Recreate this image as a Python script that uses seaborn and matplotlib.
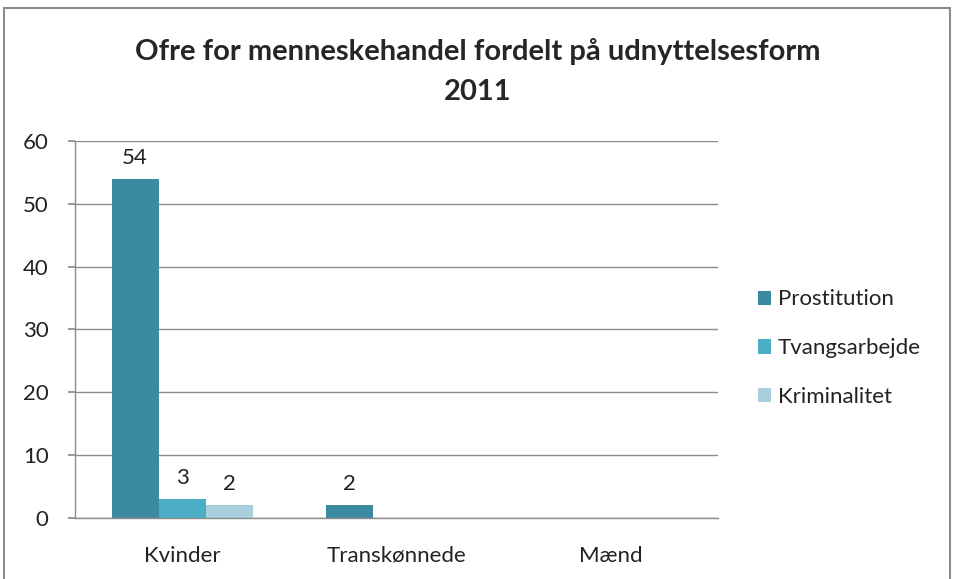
import pandas as pd
import seaborn as sns
import matplotlib.pyplot as plt
from matplotlib.patches import Rectangle

categories = ['Kvinder', 'Transkønnede', 'Mænd']
series_names = ['Prostitution', 'Tvangsarbejde', 'Kriminalitet']
prostitution = [54, 2, 0]
tvangsarbejde = [3, 0, 0]
kriminalitet = [2, 0, 0]
colors = ['#3C8AA0', '#4BADC6', '#A9CFDD']

df = pd.DataFrame({
    'kategori': categories * 3,
    'form': [s for s in series_names for _ in categories],
    'antal': prostitution + tvangsarbejde + kriminalitet,
})

sns.set_theme(style='white')
plt.rcParams['font.family'] = ['Lato', 'DejaVu Sans']

fig = plt.figure(figsize=(9.56, 5.79), dpi=100)
ax = fig.add_axes([0.0785, 0.1054, 0.673, 0.6511])

sns.barplot(data=df, x='kategori', y='antal', hue='form', palette=colors,
            width=0.66, gap=0, saturation=1, linewidth=0, ax=ax, legend=True)

# værdietiketter kun for værdier over nul
for cont in ax.containers:
    labels = [f'{v:.0f}' if v > 0 else '' for v in cont.datavalues]
    ax.bar_label(cont, labels=labels, padding=8, fontsize=16, color='#222222')

ax.set_ylim(0, 60)
ax.set_yticks(range(0, 61, 10))
ax.set_xlim(-0.5, 2.5)
ax.yaxis.grid(True, color='#8c8c8c', linewidth=1)
ax.set_axisbelow(True)
ax.set_xlabel('')
ax.set_ylabel('')
for s in ['top', 'right']:
    ax.spines[s].set_visible(False)
for s in ['left', 'bottom']:
    ax.spines[s].set_color('#8c8c8c')
    ax.spines[s].set_linewidth(1)
ax.tick_params(axis='y', left=True, length=5, color='#8c8c8c', labelsize=16,
               labelcolor='#222222', pad=14)
ax.tick_params(axis='x', bottom=False, labelsize=16, labelcolor='#222222', pad=14)

leg = ax.legend(loc='center left', bbox_to_anchor=(1.03, 0.45), frameon=False,
                fontsize=16, handlelength=0.6, handleheight=0.6,
                labelspacing=1.3, handletextpad=0.3)
for t in leg.get_texts():
    t.set_color('#222222')

fig.suptitle('Ofre for menneskehandel fordelt på udnyttelsesform\n2011',
             x=0.5, y=0.934, va='top', fontsize=21, fontweight='bold',
             linespacing=1.65)

fig.patches.append(Rectangle((4 / 956, -0.1), 946 / 956, 1.1 - 8 / 579,
                             transform=fig.transFigure, fill=False,
                             edgecolor='#8c8c8c', linewidth=1.5))

fig.savefig('out.png', dpi=100)
